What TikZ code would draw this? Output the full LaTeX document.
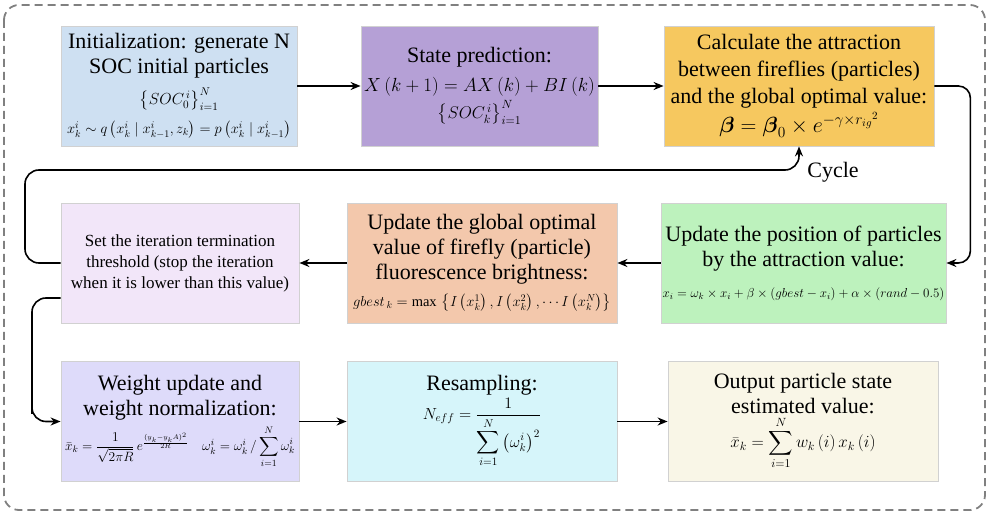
\RequirePackage{fix-cm}
\documentclass[tikz,border=0pt]{standalone}
\usepackage{amsmath,amssymb}
\usepackage{fontspec}
\setmainfont{Liberation Serif}
\usetikzlibrary{arrows.meta,calc}
\definecolor{cInit}{HTML}{CEE0F2}
\definecolor{cState}{HTML}{B5A0D6}
\definecolor{cCalc}{HTML}{F6C85F}
\definecolor{cGreen}{HTML}{BDF2BD}
\definecolor{cPeach}{HTML}{F3C8AC}
\definecolor{cThr}{HTML}{F2E6F9}
\definecolor{cWeight}{HTML}{DEDBFA}
\definecolor{cRes}{HTML}{D6F5FA}
\definecolor{cOut}{HTML}{F9F6E7}
\tikzset{
  box/.style={draw=black!18, line width=0.8pt, minimum height=120, inner sep=1pt, align=center,
    font=\fontsize{22}{25}\selectfont},
  arr/.style={line width=1.6pt, -{Stealth[length=10pt,width=8pt]}},
  frame/.style={draw=black!50, line width=1.8pt, dash pattern=on 8pt off 5pt, rounded corners=15}
}
\newcommand{\fsz}[1]{\fontsize{#1}{#1}\selectfont}
\begin{document}
\begin{tikzpicture}[x=1pt,y=-1pt]
\useasboundingbox (0,0) rectangle (989,518);
\draw[frame] (4,5) rectangle (985,510);

\node[box, fill=cInit, minimum width=236] (init) at (179,86)
  {Initialization: generate N\\SOC initial particles\\[6pt]
   {\fsz{16}$\left\{SOC_{0}^{\,i}\right\}_{i=1}^{N}$}\\[4pt]
   {\fsz{14.5}$x_k^i\sim q\left(x_k^i\mid x_{k-1}^i,z_k\right)=p\left(x_k^i\mid x_{k-1}^i\right)$}};
\node[box, fill=cState, minimum width=237] (state) at (479.5,86)
  {State prediction:\\[4pt]
   {\fsz{19}$X\left(k+1\right)=AX\left(k\right)+BI\left(k\right)$}\\[2pt]
   {\fsz{17}$\left\{SOC_{k}^{\,i}\right\}_{i=1}^{N}$}};
\node[box, fill=cCalc, minimum width=270, font=\fontsize{22}{27}\selectfont] (calc) at (799,86)
  {Calculate the attraction\\between fireflies (particles)\\and the global optimal value:\\[2pt]
   {\fsz{22}$\boldsymbol{\beta}=\boldsymbol{\beta}_0\times e^{-\gamma\times {r_{ig}}^{2}}$}};

\node[box, fill=cGreen, minimum width=285] (green) at (803.5,263)
  {Update the position of particles\\by the attraction value:\\[6pt]
   {\fsz{13}$x_i=\omega_k\times x_i+\beta\times\left(gbest-x_i\right)+\alpha\times\left(rand-0.5\right)$}};
\node[box, fill=cPeach, minimum width=270] (peach) at (482,263)
  {Update the global optimal\\value of firefly (particle)\\fluorescence brightness:\\[2pt]
   {\fsz{14.5}$gbest_{\,k}=\max\,\left\{I\left(x_k^1\right),I\left(x_k^2\right),\cdots I\left(x_k^N\right)\right\}$}};
\node[box, fill=cThr, minimum width=238, font=\fontsize{17}{21}\selectfont] (thr) at (180,263)
  {Set the iteration termination\\threshold (stop the iteration\\when it is lower than this value)};

\node[box, fill=cWeight, minimum width=238] (weight) at (180,421.5)
  {Weight update and\\weight normalization:\\[4pt]
   {\fsz{13.5}$\bar{x}_k=\dfrac{1}{\sqrt{2\pi R}}\,e^{\frac{(y_k-y_kA)^2}{2R}}\quad \omega_k^i=\omega_k^i\,/\displaystyle\sum_{i=1}^{N}\omega_k^i$}};
\node[box, fill=cRes, minimum width=270] (res) at (482,421.5)
  {Resampling:\\[2pt]
   {\fsz{16}$\displaystyle N_{eff}=\frac{1}{\displaystyle\sum_{i=1}^{N}\left(\omega_k^i\right)^2}$}};
\node[box, fill=cOut, minimum width=270] (out) at (803,421.5)
  {Output particle state\\estimated value:\\[2pt]
   {\fsz{17}$\displaystyle\bar{x}_k=\sum_{i=1}^{N}w_k\left(i\right)x_k\left(i\right)$}};

\node[font=\fontsize{22}{25}\selectfont] (cyc) at (833,172) {Cycle};

\draw[arr] (init) -- (state);
\draw[arr] (state) -- (calc);
\draw[arr, rounded corners=12] (calc.east) -- ++(36,0) |- (green.east);
\draw[arr] (green) -- (peach);
\draw[arr] (peach) -- (thr);
\draw[arr, rounded corners=14] (thr.west) -| (25,170) -| (calc.south);
\draw[arr, rounded corners=14] ([yshift=-35pt]thr.west) -| (32,400) |- (weight.west);
\draw[arr] (weight) -- (res);
\draw[arr] (res) -- (out);
\end{tikzpicture}
\end{document}
